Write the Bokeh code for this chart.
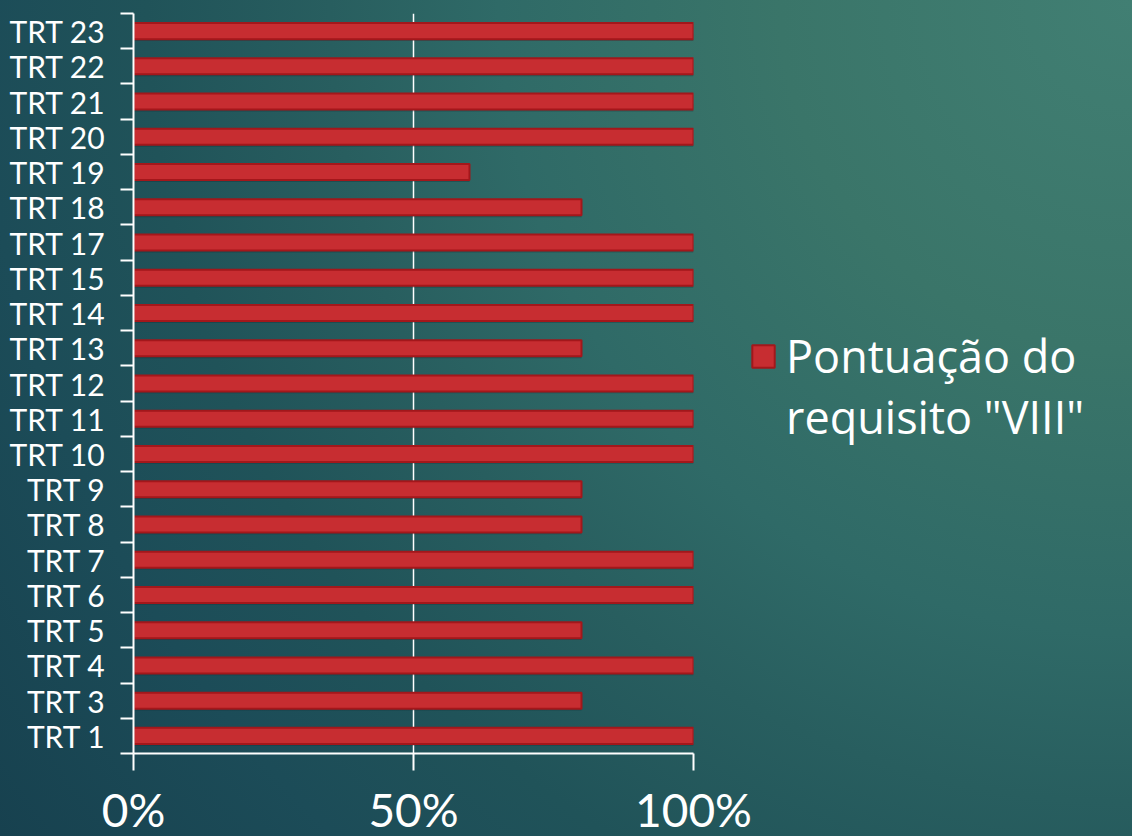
from bokeh.plotting import figure
from bokeh.models import (FactorRange, Range1d, LinearAxis, FixedTicker,
                          NumeralTickFormatter, Legend, LegendItem, CustomJSTickFormatter)
from bokeh.transform import dodge
from bokeh.embed import file_html
from bokeh.resources import INLINE

categories = ["TRT 1", "TRT 3", "TRT 4", "TRT 5", "TRT 6", "TRT 7", "TRT 8", "TRT 9",
              "TRT 10", "TRT 11", "TRT 12", "TRT 13", "TRT 14", "TRT 15", "TRT 17",
              "TRT 18", "TRT 19", "TRT 20", "TRT 21", "TRT 22", "TRT 23"]
values = [1.0, 0.8, 1.0, 0.8, 1.0, 1.0, 0.8, 0.8,
          1.0, 1.0, 1.0, 0.8, 1.0, 1.0, 1.0,
          0.8, 0.6, 1.0, 1.0, 1.0, 1.0]
x_ticks = [0, 0.5, 1.0]
legend_lines = ["Pontuação do", "requisito \"VIII\""]

FONT = "Lato"
n = len(categories)

p = figure(width=1132, height=836, frame_width=560, frame_height=740,
           y_range=FactorRange(factors=categories), x_range=Range1d(0, 1),
           output_backend="svg", toolbar_location=None,
           min_border_left=133, min_border_top=13, min_border_right=439, min_border_bottom=83)
p.background_fill_alpha = 0
p.border_fill_alpha = 0
p.outline_line_color = None

# bars with soft shadow
p.hbar(y=dodge("y", -0.17, range=p.y_range), right="x", height=0.22, left=0,
       source=dict(y=categories, x=values), fill_color="#0a2630", fill_alpha=0.28,
       line_color=None)
bars = p.hbar(y=categories, right=values, left=0, height=0.455,
              fill_color="#c72d31", line_color="#a3171b", line_width=2)
# invisible companion renderer for the second legend line
ghost = p.hbar(y=categories, right=values, left=0, height=0.455,
               fill_alpha=0, line_alpha=0)

# x axis
xa = p.xaxis[0]
xa.ticker = FixedTicker(ticks=x_ticks)
xa.formatter = NumeralTickFormatter(format="0%")
xa.axis_line_color = "white"
xa.axis_line_width = 2
xa.major_tick_line_color = "white"
xa.major_tick_line_width = 2
xa.major_tick_out = 17
xa.major_tick_in = 0
xa.minor_tick_line_color = None
xa.major_label_text_color = "white"
xa.major_label_text_font = FONT
xa.major_label_text_font_size = "46px"
xa.major_label_standoff = 11

# categorical y axis (labels only)
ya = p.yaxis[0]
ya.axis_line_color = None
ya.major_tick_line_color = None
ya.major_tick_out = 0
ya.major_tick_in = 0
ya.major_label_text_color = "white"
ya.major_label_text_font = FONT
ya.major_label_text_font_size = "30px"
ya.major_label_standoff = 15

# boundary ticks axis (synthetic coordinates of the factor range)
ta = LinearAxis(ticker=FixedTicker(ticks=list(range(n + 1))),
                formatter=CustomJSTickFormatter(code="return ''"),
                axis_line_color="white", axis_line_width=2,
                major_tick_line_color="white", major_tick_line_width=2,
                major_tick_out=13, major_tick_in=0, minor_tick_line_color=None,
                major_label_standoff=0, major_label_text_font_size="1px")
p.left = [ta] + list(p.left)

p.xgrid.ticker = FixedTicker(ticks=[0.5, 1.0])
p.xgrid.grid_line_color = "white"
p.xgrid.grid_line_width = 1.5
p.ygrid.visible = False

legend = Legend(items=[LegendItem(label=legend_lines[0], renderers=[bars]),
                       LegendItem(label=legend_lines[1], renderers=[ghost])],
                location=(56, 306), background_fill_alpha=0, border_line_color=None,
                label_text_color="white", label_text_font="Open Sans",
                label_text_font_size="45px", glyph_width=28, glyph_height=28,
                label_standoff=9, padding=0, margin=0, spacing=0)
p.add_layout(legend, "right")

html = file_html(p, INLINE)
css = ("<style>html{min-height:100%;background:radial-gradient(circle farthest-corner at 100% 0%,"
       " #417f73 0%, #3a7569 25%, #2f6a67 45%, #285e5f 57%, #205359 70%, #1c4c58 82%, #17414f 100%)"
       " fixed;} body{background:transparent;}</style>")
html = html.replace("</head>", css + "</head>", 1)
open("out.html", "w").write(html)
